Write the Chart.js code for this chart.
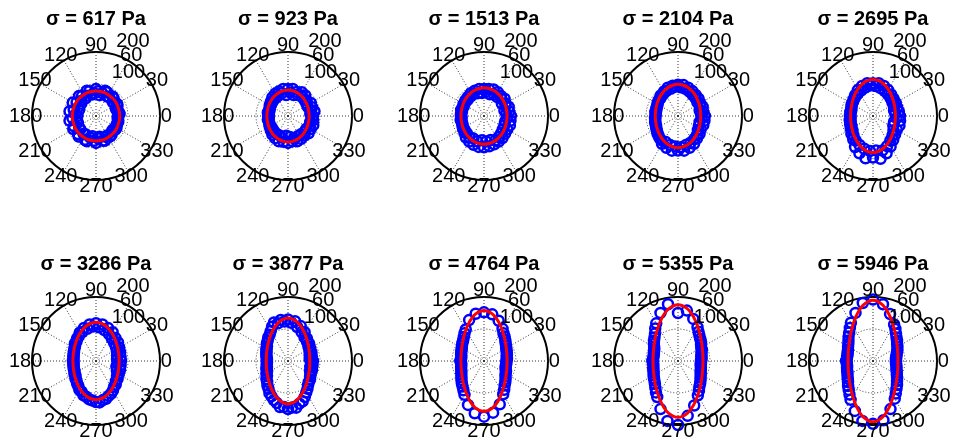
<!DOCTYPE html>
<html>
<head>
<meta charset="utf-8">
<script src="https://cdn.jsdelivr.net/npm/chart.js@4.4.1/dist/chart.umd.min.js"></script>
<style>
  html, body { margin: 0; padding: 0; background: #fff; overflow: hidden; }
  #wrap { position: relative; width: 958px; height: 445px; }
  #wrap canvas { position: absolute; }
</style>
</head>
<body>
<div id="wrap"></div>
<script>
// applied stress of each panel, Pa
const stresses = [617, 923, 1513, 2104, 2695, 3286, 3877, 4764, 5355, 5946];

// measured radius every 5 degrees (0, 5, ... 355, anticlockwise from the x axis); null = no sample
const pts617 = [70,74,72,68,66,74,76,70,68,78,80,72, 70,82,84,74,66,78,84,72,68,80,84,70,
                64,76,82,66,60,74,84,62,56,72,84,64, 58,74,84,62,60,76,82,64,64,80,84,68,
                66,82,84,70,64,78,84,70,66,80,82,72, 70,78,76,70,68,74,74,70,70,72,70,68];
const pts923 = [78,70,84,72,80,68,82,70,76,72,84,74, 86,72,80,68,86,74,84,66,86,74,82,70,
                80,68,76,66,70,64,66,62,62,60,64,60, 62,60,64,62,62,64,66,62,70,64,76,66,
                80,66,84,70,82,62,84,66,80,72,84,70, 82,70,80,72,84,70,82,74,84,72,80,74];
const pts1513 = [84,70,80,66,82,74,78,68,84,76,82,72, 86,74,88,70,86,76,84,72,86,74,84,76,
                 82,74,78,72,76,72,74,70,72,74,70,72, 72,70,74,72,72,74,76,74,80,76,88,80,
                 92,78,96,82,98,76,98,80,96,78,94,84, 92,80,90,76,86,72,84,70,86,68,84,72];
const pts2104 = [84,72,80,70,82,76,80,74,84,78,86,80, 90,84,94,88,98,90,98,92,96,88,94,86,
                 88,82,84,78,78,76,74,72,72,70,72,70, 70,72,72,74,74,76,78,80,84,86,90,92,
                 100,90,106,94,110,96,108,98,110,94,106,92, 100,88,92,84,88,76,82,72,84,70,84,74];
const pts2695 = [84,70,82,68,80,72,82,74,84,78,88,82, 94,86,100,90,104,94,102,96,104,92,100,88,
                 94,84,86,80,80,76,76,74,72,70,72,70, 72,70,74,72,76,74,80,78,88,86,96,94,
                 112,100,124,106,134,110,130,108,136,112,124,104, 110,94,98,86,90,78,86,70,88,68,86,74];
const pts3286 = [78,66,78,68,80,72,84,76,90,80,94,86, 104,94,110,100,116,106,118,108,116,104,110,100,
                 102,94,92,86,86,80,78,76,74,72,72,70, 72,70,72,72,74,74,78,78,84,86,92,96,
                 104,106,114,116,122,124,128,130,124,122,116,112, 106,98,96,88,88,80,82,72,80,66,78,68];
const pts3877 = [78,68,76,70,78,74,80,78,86,84,92,90, 104,100,116,110,126,120,130,124,130,122,128,118,
                 108,100,96,90,86,80,78,74,72,70,68,66, 66,66,68,68,72,72,78,80,88,92,100,106,
                 116,122,130,136,146,144,150,146,148,138,134,124, 114,106,98,92,90,84,82,76,80,72,78,72];
const pts4764 = [70,72,72,74,76,78,80,84,88,94,100,106, 116,null,134,null,148,null,152,null,150,null,136,null,
                 114,106,98,92,88,84,80,78,76,74,72,72, 74,72,72,74,76,78,82,86,92,98,104,112,
                 122,null,146,null,166,null,174,null,164,null,144,null, 120,110,100,94,88,82,78,76,72,70,70,70];
const pts5355 = [72,74,74,76,78,82,84,88,94,98,104,112, 122,null,140,null,160,null,150,null,180,null,160,null,
                 136,124,112,104,98,92,86,82,80,78,78,78, 80,78,78,80,82,84,88,92,96,102,110,120,
                 130,null,160,null,190,null,200,null,174,null,148,null, 124,114,104,98,92,86,82,78,76,74,72,72];
const pts5946 = [72,72,74,76,80,84,88,92,98,104,112,122, 132,null,156,null,180,null,192,null,184,null,160,null,
                 138,126,116,108,100,94,90,86,84,82,82,82, 84,82,82,84,86,88,92,96,102,110,118,128,
                 140,null,166,null,190,null,196,null,188,null,160,null, 136,124,114,106,98,92,86,82,78,76,74,72];

// fitted ellipse radius every 10 degrees
const fit617  = [74,74,74,75,76,76,77,78,78,78, 78,78,77,76,76,75,74,74,74, 74,74,75,76,76,77,78,78,78, 78,78,77,76,76,75,74,74];
const fit923  = [66,66.3,67.3,69,71.1,73.7,76.3,78.7,80.4,81, 80.4,78.7,76.3,73.7,71.1,69,67.3,66.3,66, 66.3,67.3,69,71.1,73.7,76.3,78.7,80.4,81, 80.4,78.7,76.3,73.7,71.1,69,67.3,66.3];
const fit1513 = [72,72.4,73.4,75.2,77.5,80.2,83,85.6,87.4,88, 87.4,85.6,83,80.2,77.5,75.2,73.4,72.4,72, 72.4,73.4,75.2,77.5,80.2,83,85.6,87.4,88, 87.4,85.6,83,80.2,77.5,75.2,73.4,72.4];
const fit2104 = [71,71.5,73.1,75.7,79.4,84,89.1,94,97.6,99, 97.6,94,89.1,84,79.4,75.7,73.1,71.5,71, 71.5,73.1,75.7,79.4,84,89.1,94,97.6,99, 97.6,94,89.1,84,79.4,75.7,73.1,71.5];
const fit2695 = [70,70.7,72.7,76.2,81.2,87.9,95.9,104.4,111.3,114, 111.3,104.4,95.9,87.9,81.2,76.2,72.7,70.7,70, 70.7,72.7,76.2,81.2,87.9,95.9,104.4,111.3,114, 111.3,104.4,95.9,87.9,81.2,76.2,72.7,70.7];
const fit3286 = [72,72.7,74.9,78.6,84.1,91.4,100.3,109.9,117.8,121, 117.8,109.9,100.3,91.4,84.1,78.6,74.9,72.7,72, 72.7,74.9,78.6,84.1,91.4,100.3,109.9,117.8,121, 117.8,109.9,100.3,91.4,84.1,78.6,74.9,72.7];
const fit3877 = [68,68.8,71.2,75.4,81.7,90.5,102.2,115.9,128.5,134, 128.5,115.9,102.2,90.5,81.7,75.4,71.2,68.8,68, 68.8,71.2,75.4,81.7,90.5,102.2,115.9,128.5,134, 128.5,115.9,102.2,90.5,81.7,75.4,71.2,68.8];
const fit4764 = [72,72.9,75.6,80.4,87.8,98.4,113,131.4,149.6,158, 149.6,131.4,113,98.4,87.8,80.4,75.6,72.9,72, 72.9,75.6,80.4,87.8,98.4,113,131.4,149.6,158, 149.6,131.4,113,98.4,87.8,80.4,75.6,72.9];
const fit5355 = [78,79,81.9,87.3,95.4,107.3,123.7,144.7,166,176, 166,144.7,123.7,107.3,95.4,87.3,81.9,79,78, 79,81.9,87.3,95.4,107.3,123.7,144.7,166,176, 166,144.7,123.7,107.3,95.4,87.3,81.9,79];
const fit5946 = [78,79,82.1,87.6,96.3,109,127.1,151.3,177.3,190, 177.3,151.3,127.1,109,96.3,87.6,82.1,79,78, 79,82.1,87.6,96.3,109,127.1,151.3,177.3,190, 177.3,151.3,127.1,109,96.3,87.6,82.1,79];

const angleTicks = [0, 30, 60, 90, 120, 150, 180, 210, 240, 270, 300, 330];
const radialTicks = [100, 200];
const rMax = 200;
const stepDeg = 5;
const fitStepDeg = 10;

const measured = [pts617, pts923, pts1513, pts2104, pts2695, pts3286, pts3877, pts4764, pts5355, pts5946];
const fitted = [fit617, fit923, fit1513, fit2104, fit2695, fit3286, fit3877, fit4764, fit5355, fit5946];

const FONT = '"Liberation Sans", Arial, Helvetica, sans-serif';
Chart.defaults.font.family = FONT;
Chart.defaults.color = '#000';

const colX = [96, 288, 484, 678, 873];
const rowTop = [0, 245];

// angle labels round the rim and the two radius labels at 82 deg, like matlab's polar()
const polarLabels = {
  id: 'polarLabels',
  afterDatasetsDraw(chart) {
    const r = chart.scales.r;
    const ctx = chart.ctx;
    ctx.save();
    ctx.fillStyle = '#000';
    ctx.font = '20px ' + FONT;
    ctx.textAlign = 'center';
    ctx.textBaseline = 'middle';
    const rt = r.getDistanceFromCenterForValue(rMax) * 1.1;
    angleTicks.forEach(a => {
      const t = a * Math.PI / 180;
      ctx.fillText(String(a), r.xCenter + rt * Math.cos(t), r.yCenter - rt * Math.sin(t));
    });
    ctx.textAlign = 'left';
    ctx.textBaseline = 'bottom';
    const t82 = 82 * Math.PI / 180;
    const gap = ctx.measureText('  ').width;
    radialTicks.forEach(v => {
      const d = r.getDistanceFromCenterForValue(v + radialTicks[0] / 20);
      ctx.fillText(String(v), r.xCenter + d * Math.cos(t82) + gap, r.yCenter - d * Math.sin(t82));
    });
    ctx.restore();
  }
};

const wrap = document.getElementById('wrap');
const nPts = 360 / stepDeg;
const fitEvery = fitStepDeg / stepDeg;
// radar runs clockwise from startAngle, so walk the values backwards
const order = Array.from({length: nPts}, (_, j) => (nPts - j) % nPts);

stresses.forEach((s, i) => {
  const canvas = document.createElement('canvas');
  canvas.width = 194;
  canvas.height = 245;
  canvas.style.left = (colX[i % 5] - 97) + 'px';
  canvas.style.top = rowTop[Math.floor(i / 5)] + 'px';
  wrap.appendChild(canvas);

  new Chart(canvas, {
    type: 'radar',
    data: {
      labels: order.map(k => k * stepDeg),
      datasets: [
        {
          data: order.map(k => k % fitEvery === 0 ? fitted[i][k / fitEvery] : null),
          spanGaps: true,
          borderColor: '#ff0000',
          borderWidth: 3,
          fill: false,
          tension: 0.35,
          pointRadius: 0,
          pointHoverRadius: 0
        },
        {
          data: order.map(k => measured[i][k]),
          showLine: false,
          borderWidth: 0,
          fill: false,
          pointRadius: 5,
          pointHoverRadius: 5,
          pointBorderWidth: 2.5,
          pointBorderColor: '#0000ff',
          pointBackgroundColor: 'rgba(0,0,0,0)'
        }
      ]
    },
    options: {
      responsive: false,
      animation: false,
      events: [],
      layout: { padding: { left: 33, right: 33, top: 0, bottom: 65 } },
      plugins: {
        legend: { display: false },
        tooltip: { enabled: false },
        title: {
          display: true,
          text: 'σ = ' + s + ' Pa',
          color: '#000',
          font: { size: 20, weight: 'bold', family: FONT, lineHeight: 1.2 },
          padding: { top: 7, bottom: 21 }
        }
      },
      scales: {
        r: {
          min: 0,
          max: rMax,
          startAngle: 90,
          ticks: { display: false, stepSize: 100 },
          pointLabels: { display: false },
          grid: {
            circular: true,
            color: c => c.index === 2 ? '#000' : '#333',
            lineWidth: c => c.index === 2 ? 2 : 1
          },
          border: { dash: c => c.index === 2 ? [] : [1, 2] },
          angleLines: {
            color: '#333',
            lineWidth: c => c.index % 6 === 0 ? 1 : 0,
            borderDash: [1, 2]
          }
        }
      }
    },
    plugins: [polarLabels]
  });
});
</script>
</body>
</html>
